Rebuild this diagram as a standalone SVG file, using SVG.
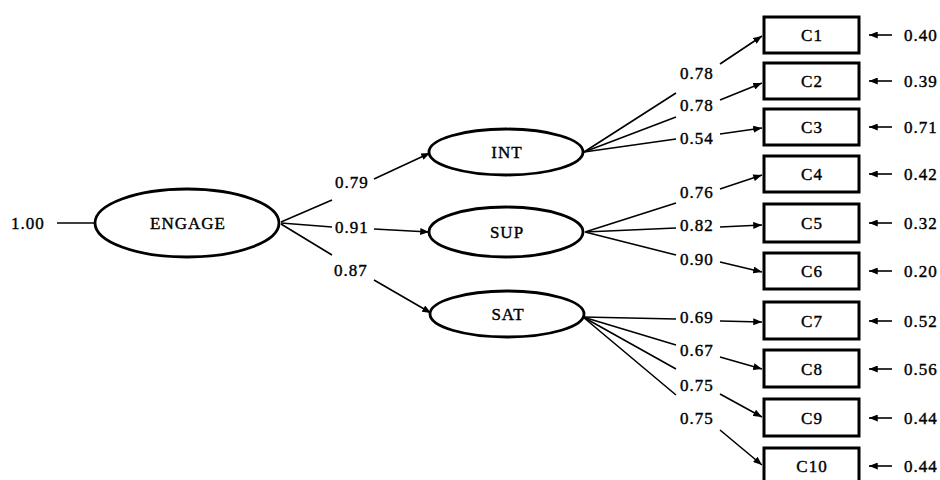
<svg xmlns="http://www.w3.org/2000/svg" width="940" height="480" viewBox="0 0 940 480">
  <defs>
    <marker id="arrow" viewBox="0 0 10 8" markerWidth="9" markerHeight="7" refX="10" refY="4" orient="auto" markerUnits="userSpaceOnUse">
      <path d="M0,0 L10,4 L0,8 z" fill="#000"/>
    </marker>
  </defs>
  <style>
    text { font-family: "Liberation Serif", "Times New Roman", serif; font-size: 17px; fill: #000; letter-spacing: 1px; stroke: #000; stroke-width: 0.4px; }
    .mid { text-anchor: middle; }
    .latent { fill: #fff; stroke: #000; stroke-width: 2.8; }
    .obs { fill: #fff; stroke: #000; stroke-width: 3; }
    .link { fill: none; stroke: #000; stroke-width: 1.6; marker-end: url(#arrow); }
    .plain { fill: none; stroke: #000; stroke-width: 1.6; }
  </style>
  <rect width="940" height="480" fill="#fff"/>

  <!-- structural paths and indicator loadings (lines broken around their coefficients) -->
  <g id="connectors">
    <path class="plain" d="M57,223 L95,223"/>
    <path class="link" d="M281,222 L332,200 M374,179 L430,153"/>
    <path class="link" d="M281,223 L332,227 M374,229 L429,232"/>
    <path class="link" d="M281,224 L332,255 M374,280 L431,313"/>

    <path class="link" d="M584,152 L676,93 M720,64 L762,36"/>
    <path class="link" d="M584,152 L676,117 M720,100 L762,83"/>
    <path class="link" d="M584,152 L676,139 M720,134 L762,128"/>

    <path class="link" d="M585,232 L676,203 M720,189 L762,175"/>
    <path class="link" d="M585,232 L676,228 M720,227 L762,225"/>
    <path class="link" d="M585,232 L676,255 M720,262 L762,272"/>

    <path class="link" d="M583,317 L676,319 M720,321 L762,322"/>
    <path class="link" d="M583,317 L676,345 M720,357 L762,369"/>
    <path class="link" d="M583,317 L676,369 M720,394 L762,417"/>
    <path class="link" d="M583,317 L676,395 M720,430 L762,465"/>

    <!-- residual arrows into the indicators -->
    <path class="link" d="M892,35 L869,35"/>
    <path class="link" d="M892,81 L869,81"/>
    <path class="link" d="M892,127 L869,127"/>
    <path class="link" d="M892,174 L869,174"/>
    <path class="link" d="M892,223 L869,223"/>
    <path class="link" d="M892,271 L869,271"/>
    <path class="link" d="M892,321 L869,321"/>
    <path class="link" d="M892,369 L869,369"/>
    <path class="link" d="M892,418 L869,418"/>
    <path class="link" d="M892,466 L869,466"/>
  </g>

  <!-- coefficients -->
  <g id="coefficients">
    <text x="11" y="229">1.00</text>
    <text x="335" y="188">0.79</text>
    <text x="335" y="233">0.91</text>
    <text x="334" y="276">0.87</text>
    <text x="680" y="79">0.78</text>
    <text x="680" y="111">0.78</text>
    <text x="680" y="144">0.54</text>
    <text x="680" y="198">0.76</text>
    <text x="680" y="231">0.82</text>
    <text x="680" y="265">0.90</text>
    <text x="680" y="323">0.69</text>
    <text x="680" y="356">0.67</text>
    <text x="680" y="391">0.75</text>
    <text x="680" y="424">0.75</text>
    <text x="904" y="41">0.40</text>
    <text x="904" y="87">0.39</text>
    <text x="904" y="133">0.71</text>
    <text x="904" y="180">0.42</text>
    <text x="904" y="229">0.32</text>
    <text x="904" y="277">0.20</text>
    <text x="904" y="327">0.52</text>
    <text x="904" y="375">0.56</text>
    <text x="904" y="424">0.44</text>
    <text x="904" y="472">0.44</text>
  </g>

  <!-- latent factors -->
  <g id="ENGAGE">
    <ellipse class="latent" cx="187" cy="223" rx="92" ry="34"/>
    <text class="mid" x="188" y="229">ENGAGE</text>
  </g>
  <g id="INT">
    <ellipse class="latent" cx="506" cy="152" rx="77" ry="23"/>
    <text class="mid" x="507" y="158">INT</text>
  </g>
  <g id="SUP">
    <ellipse class="latent" cx="506" cy="232" rx="77" ry="25"/>
    <text class="mid" x="507" y="238">SUP</text>
  </g>
  <g id="SAT">
    <ellipse class="latent" cx="507" cy="314" rx="77" ry="23"/>
    <text class="mid" x="508" y="320">SAT</text>
  </g>

  <!-- observed indicators -->
  <g id="C1"><rect class="obs" x="764" y="17" width="95" height="36"/><text class="mid" x="812" y="41">C1</text></g>
  <g id="C2"><rect class="obs" x="764" y="63" width="95" height="36"/><text class="mid" x="812" y="87">C2</text></g>
  <g id="C3"><rect class="obs" x="764" y="109" width="95" height="36"/><text class="mid" x="812" y="133">C3</text></g>
  <g id="C4"><rect class="obs" x="764" y="156" width="95" height="36"/><text class="mid" x="812" y="180">C4</text></g>
  <g id="C5"><rect class="obs" x="764" y="204" width="95" height="38"/><text class="mid" x="812" y="229">C5</text></g>
  <g id="C6"><rect class="obs" x="764" y="253" width="95" height="36"/><text class="mid" x="812" y="277">C6</text></g>
  <g id="C7"><rect class="obs" x="764" y="302" width="95" height="37"/><text class="mid" x="812" y="327">C7</text></g>
  <g id="C8"><rect class="obs" x="764" y="350" width="95" height="37"/><text class="mid" x="812" y="375">C8</text></g>
  <g id="C9"><rect class="obs" x="764" y="399" width="95" height="37"/><text class="mid" x="812" y="424">C9</text></g>
  <g id="C10"><rect class="obs" x="764" y="448" width="95" height="37"/><text class="mid" x="812" y="472">C10</text></g>
</svg>
